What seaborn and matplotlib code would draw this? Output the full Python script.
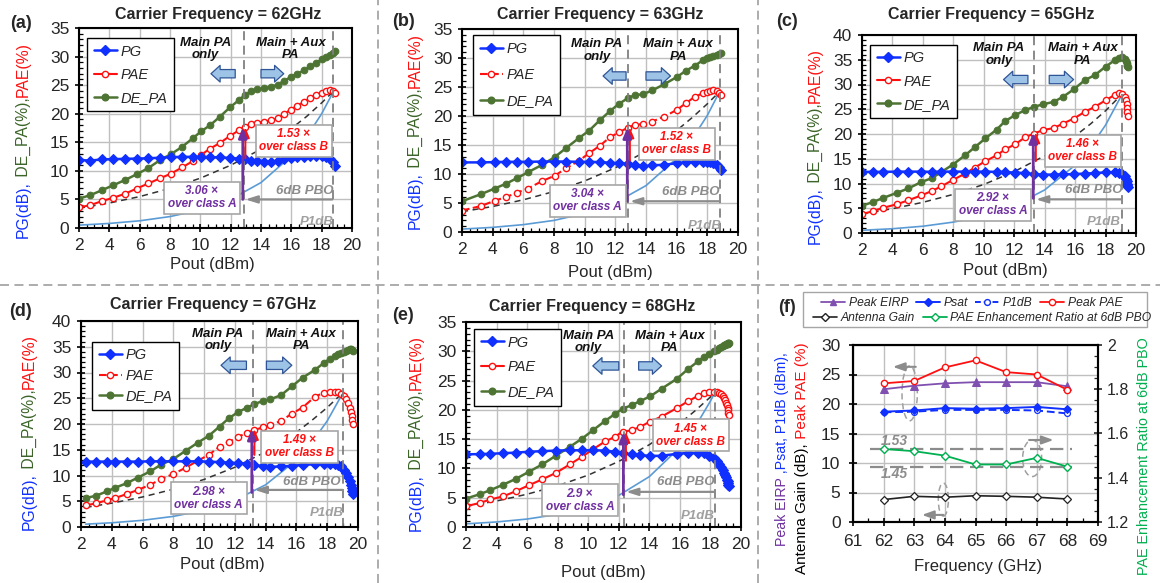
import matplotlib
matplotlib.use("Agg")
import matplotlib.pyplot as plt
import seaborn as sns
import numpy as np
import pandas as pd
from matplotlib.lines import Line2D
from matplotlib.patches import Ellipse, Rectangle
from matplotlib.ticker import MultipleLocator, FuncFormatter

# ------------------------------------------------------------------ data
# (a) 62 GHz
POUT_A = [2.0, 2.75, 3.5, 4.27, 5.04, 5.8, 6.58, 7.35, 8.05, 8.8, 9.5, 10.05, 10.65, 11.3, 11.95, 12.55,
          12.95, 13.35, 13.75, 14.2, 14.65, 15.1, 15.5, 15.95, 16.4, 16.85, 17.25, 17.65, 18.0, 18.3,
          18.55, 18.75, 18.9]
DE_A = [5.15, 5.75, 6.6, 7.5, 8.4, 9.4, 10.5, 11.9, 12.9, 14.2, 15.7, 16.9, 18.0, 19.5, 21.1, 22.4, 23.3,
        23.9, 24.3, 24.45, 24.7, 25.1, 25.7, 26.4, 27.0, 27.6, 28.3, 28.9, 29.5, 29.9, 30.3, 30.7, 30.95]
PAE_A = [3.6, 4.0, 4.7, 5.3, 6.0, 6.9, 7.8, 8.7, 9.5, 10.6, 11.7, 12.8, 13.9, 14.9, 16.1, 17.1, 17.7,
         18.2, 18.4, 18.6, 18.85, 19.2, 19.9, 20.7, 21.4, 22.1, 22.8, 23.3, 23.7, 24.0, 24.1, 24.0, 23.7]
PG_A = [11.9, 11.8, 12.0, 12.05, 12.1, 12.15, 12.2, 12.3, 12.4, 12.45, 12.45, 12.45, 12.4, 12.35, 12.25,
        12.15, 12.0, 11.8, 11.65, 11.5, 11.55, 11.75, 12.0, 12.25, 12.4, 12.5, 12.6, 12.6, 12.55, 12.4,
        12.0, 11.5, 10.9]
REFX_A = [2, 4, 6, 8, 10, 12, 14, 16, 17, 18, 18.8]
CLSB_A = [3.47, 4.37, 5.5, 6.93, 8.72, 10.98, 13.8, 17.4, 19.5, 21.9, 24.0]
CLSA_A = [0.5, 0.8, 1.26, 2.0, 3.16, 5.0, 7.95, 12.6, 15.9, 20.0, 24.0]

# (b) 63 GHz
POUT_B = [2.0, 3.26, 4.13, 4.85, 5.6, 6.3, 7.24, 8.04, 8.8, 9.63, 10.3, 11.0, 11.63, 12.24, 12.83, 13.26,
          13.8, 14.4, 15.2, 16.0, 16.6, 17.2, 17.7, 18.0, 18.2, 18.4, 18.6, 18.75, 18.9]
DE_B = [5.3, 6.55, 7.5, 8.3, 9.3, 10.3, 11.6, 12.9, 14.5, 16.2, 17.5, 19.3, 20.8, 22.1, 23.1, 23.6, 23.75,
        24.4, 25.5, 26.7, 27.8, 28.7, 29.6, 30.0, 30.2, 30.4, 30.6, 30.75, 30.85]
PAE_B = [3.7, 4.5, 5.4, 6.0, 6.8, 7.5, 8.8, 9.7, 11.0, 12.3, 13.6, 14.9, 16.3, 17.2, 18.0, 18.5, 18.6,
         19.05, 19.9, 21.05, 22.2, 23.35, 23.9, 24.2, 24.35, 24.4, 24.3, 24.0, 23.6]
PG_B = [12.0, 12.0, 12.05, 12.1, 12.1, 12.1, 12.15, 12.15, 12.15, 12.1, 12.1, 12.05, 11.95, 11.85, 11.8,
        11.6, 11.3, 11.5, 11.6, 11.85, 12.0, 12.1, 12.1, 12.05, 12.0, 11.85, 11.6, 11.2, 10.7]
REFX_B = [2, 4, 6, 8, 10, 12, 14, 16, 17, 18, 18.8]
CLSB_B = [3.5, 4.4, 5.55, 6.98, 8.8, 11.07, 13.9, 17.5, 19.7, 22.1, 24.2]
CLSA_B = [0.5, 0.8, 1.27, 2.0, 3.2, 5.05, 8.0, 12.7, 16.0, 20.1, 24.2]

# (c) 65 GHz
POUT_C = [2.0, 2.75, 3.4, 4.28, 5.04, 5.9, 6.6, 7.2, 7.96, 8.77, 9.4, 10.1, 10.85, 11.4, 12.05, 12.7, 13.3,
          13.9, 14.6, 15.2, 15.9, 16.65, 17.3, 18.0, 18.6, 18.9, 19.1, 19.25, 19.35, 19.4, 19.42, 19.44, 19.45]
DE_C = [5.5, 6.3, 7.1, 8.1, 9.0, 10.3, 11.1, 12.3, 13.8, 15.7, 17.3, 19.1, 20.9, 22.6, 23.8, 24.8, 25.5,
        26.0, 26.5, 27.5, 29.0, 30.9, 31.9, 33.6, 34.9, 35.3, 35.5, 35.2, 34.8, 34.4, 34.0, 33.7, 33.5]
PAE_C = [3.8, 4.45, 5.1, 5.8, 6.6, 7.6, 8.5, 9.4, 10.7, 12.0, 13.2, 14.5, 15.7, 16.9, 17.9, 19.3, 20.1,
         20.8, 21.2, 22.1, 23.1, 24.5, 25.5, 26.8, 27.9, 28.2, 28.1, 27.5, 26.8, 26.0, 25.2, 24.4, 23.6]
PG_C = [12.35, 12.35, 12.35, 12.4, 12.4, 12.4, 12.35, 12.4, 12.4, 12.4, 12.4, 12.4, 12.35, 12.3, 12.2, 12.1,
        11.9, 11.8, 11.8, 11.85, 11.9, 12.0, 12.1, 12.25, 12.3, 12.2, 12.0, 11.5, 11.0, 10.5, 10.0, 9.6, 9.3]
REFX_C = [2, 4, 6, 8, 10, 12, 14, 16, 17, 18, 19.1]
CLSB_C = [3.9, 4.9, 6.2, 7.8, 9.8, 12.4, 15.6, 19.6, 22.0, 24.7, 28.1]
CLSA_C = [0.55, 0.86, 1.37, 2.2, 3.4, 5.5, 8.7, 13.7, 17.3, 21.8, 28.1]

# (d) 67 GHz
POUT_D = [2.3, 3.0, 3.67, 4.2, 4.97, 5.7, 6.5, 7.2, 8.0, 8.8, 9.6, 10.3, 11.0, 11.6, 12.2, 12.8, 13.25,
          13.8, 14.3, 15.0, 15.7, 16.4, 17.2, 17.8, 18.2, 18.5, 18.7, 18.9, 19.1, 19.25, 19.35, 19.45,
          19.52, 19.58, 19.62, 19.65]
DE_D = [5.6, 6.1, 6.9, 7.6, 8.5, 9.6, 10.8, 12.1, 13.2, 14.8, 16.4, 17.7, 19.5, 21.1, 22.3, 23.2, 23.8,
        24.5, 24.8, 25.6, 27.3, 29.0, 30.5, 31.9, 32.7, 33.2, 33.5, 33.8, 34.0, 34.2, 34.4, 34.5, 34.5,
        34.4, 34.3, 34.2]
PAE_D = [4.2, 4.6, 5.2, 5.6, 6.4, 7.2, 8.2, 9.3, 10.3, 11.5, 12.9, 14.0, 15.6, 16.5, 17.5, 18.3, 18.8,
         19.35, 19.8, 20.6, 22.0, 23.2, 25.3, 26.1, 26.25, 26.3, 26.2, 25.9, 25.4, 24.8, 24.0, 23.2, 22.4,
         21.6, 20.8, 20.0]
PG_D = [12.7, 12.7, 12.7, 12.7, 12.7, 12.7, 12.75, 12.75, 12.75, 12.75, 12.75, 12.7, 12.6, 12.5, 12.4,
        12.25, 12.1, 11.75, 11.7, 11.75, 11.9, 12.05, 12.2, 12.25, 12.25, 12.2, 12.1, 11.8, 11.1, 10.5,
        9.8, 9.0, 8.2, 7.5, 6.9, 6.5]
REFX_D = [2.3, 4, 6, 8, 10, 12, 14, 16, 17, 18, 19.05]
CLSB_D = [3.8, 4.63, 5.83, 7.34, 9.24, 11.6, 14.6, 18.4, 20.7, 23.2, 26.2]
CLSA_D = [0.55, 0.82, 1.3, 2.06, 3.26, 5.2, 8.2, 13.0, 16.4, 20.6, 26.2]

# (e) 68 GHz
POUT_E = [2.0, 2.9, 3.6, 4.45, 5.25, 6.1, 7.0, 7.9, 8.8, 9.6, 10.3, 11.1, 11.75, 12.25, 12.85, 13.4, 14.05,
          14.8, 15.8, 16.55, 17.2, 17.6, 17.9, 18.2, 18.4, 18.55, 18.7, 18.8, 18.9, 18.97, 19.03, 19.08,
          19.12, 19.15, 19.18, 19.2]
DE_E = [4.85, 5.6, 6.3, 7.25, 8.2, 9.4, 10.7, 12.2, 13.7, 15.1, 16.5, 18.1, 19.3, 20.2, 20.8, 21.5, 22.3,
        23.6, 25.3, 27.0, 28.3, 29.1, 29.6, 30.0, 30.3, 30.5, 30.7, 30.85, 31.0, 31.1, 31.2, 31.25, 31.3,
        31.35, 31.4, 31.45]
PAE_E = [3.55, 4.1, 4.7, 5.25, 6.1, 7.1, 8.15, 9.25, 10.7, 12.0, 13.25, 14.6, 15.4, 16.3, 16.5, 17.1, 18.0,
         18.85, 20.3, 21.5, 22.4, 22.85, 23.0, 23.1, 23.0, 22.9, 22.7, 22.4, 22.0, 21.6, 21.2, 20.8, 20.4,
         20.0, 19.5, 19.1]
PG_E = [12.4, 12.45, 12.5, 12.6, 12.7, 12.85, 12.95, 13.05, 13.1, 13.1, 13.1, 13.05, 12.85, 12.55, 12.4,
        12.25, 12.15, 12.15, 12.5, 12.65, 12.65, 12.55, 12.2, 11.7, 11.2, 10.7, 10.2, 9.8, 9.3, 8.9, 8.5,
        8.1, 7.8, 7.5, 7.2, 7.0]
REFX_E = [2, 4, 6, 8, 10, 12, 14, 16, 17, 18, 18.3]
CLSB_E = [3.53, 4.44, 5.6, 7.04, 8.86, 11.2, 14.05, 17.7, 19.85, 22.2, 23.0]
CLSA_E = [0.54, 0.86, 1.36, 2.15, 3.4, 5.4, 8.6, 13.6, 17.1, 21.5, 23.0]

FREQ_LABELS = ["62GHz", "63GHz", "65GHz", "67GHz", "68GHz"]
RATIO_A = ["3.06", "3.04", "2.92", "2.98", "2.9"]
RATIO_B = ["1.53", "1.52", "1.46", "1.49", "1.45"]

# (f) summary vs frequency
FREQ = [62, 63, 64, 65, 66, 67, 68]
PEAK_EIRP = [22.5, 23.1, 23.5, 23.7, 23.7, 23.7, 23.0]
PSAT = [18.7, 18.9, 19.3, 19.2, 19.3, 19.5, 19.1]
P1DB = [18.6, 18.7, 19.0, 19.0, 19.0, 18.9, 18.4]
PEAK_PAE = [23.5, 23.9, 26.2, 27.4, 25.4, 25.0, 22.4]
ANT_GAIN = [3.8, 4.35, 4.2, 4.45, 4.35, 4.2, 3.9]
PAE_RATIO = [1.53, 1.52, 1.50, 1.46, 1.46, 1.49, 1.45]

# ------------------------------------------------------------------ style
sns.set_theme(style="ticks")
plt.rcParams["font.family"] = ["Liberation Sans", "DejaVu Sans"]

BLUE = "#1030FF"
RED = "#FF1010"
GREEN = "#4E7434"
GREEN_LAB = "#3B6428"
LBLUE = "#5B9BD5"
PURPLE = "#7030A0"
PURPLE_L = "#8050B0"
GRAY = "#8C8C8C"
GRID = "#BFBFBF"
RGREEN = "#00B050"
TICK_FS = 12.5

W, H = 1160, 583
fig = plt.figure(figsize=(W / 100, H / 100), dpi=100)
fig.patch.set_facecolor("white")


def fx(px):
    return px / W


def fy(py):
    return 1 - py / H


def vlabel(xpx, ycpx, parts, size):
    r = fig.canvas.get_renderer()
    hs = []
    for s, c in parts:
        t = fig.text(0, 0, s, rotation=90, fontsize=size)
        hs.append(t.get_window_extent(r).height)
        t.remove()
    y = (H - ycpx) - sum(hs) / 2
    for (s, c), h in zip(parts, hs):
        fig.text(fx(xpx), y / H, s, rotation=90, fontsize=size, color=c, ha="center", va="bottom")
        y += h


def style_axes(ax):
    for sp in ax.spines.values():
        sp.set_visible(True)
        sp.set_color("black")
        sp.set_linewidth(1.5)
    ax.tick_params(which="major", direction="inout", length=6, width=1.2, color="black",
                   labelsize=TICK_FS, pad=4, left=True, bottom=True)
    ax.tick_params(which="minor", direction="in", length=3, width=0.9, color="black", left=True, bottom=True)


def block_arrow(ax, x0, x1, y):
    ax.annotate("", xy=(x1, y), xytext=(x0, y),
                arrowprops=dict(arrowstyle="simple,head_length=0.55,head_width=1.0,tail_width=0.5",
                                fc="#9DC3E6", ec="#2F5597", lw=0.9, mutation_scale=12,
                                shrinkA=0, shrinkB=0))


LAYOUT = [
    dict(tag="(a)", rect=(79, 28, 352, 228), ymax=35, title_xy=(218, 15), tag_xy=(21, 24), ylab_xy=(23, 140),
         xlab_xy=(212, 264), pae_ls="-", v=(12.85, 18.75), pbo_y=5.0, pur=(5.0, 17.6), red_y0=12.2,
         boxA=(10.1, 5.3), boxB=(16.15, 15.3), pbo_txt=(16.9, 6.5), p1db_txt=(17.7, 1.1),
         main_txt=(10.35, 31.3), aux_txt=(15.95, 31.3), blk_y=27.0, blk_l=(12.3, 10.7), blk_r=(14.0, 15.5),
         leg=(0.03, 0.95), legsp=0.62),
    dict(tag="(b)", rect=(462, 29, 738, 232), ymax=35, title_xy=(600, 15), tag_xy=(404, 22), ylab_xy=(415, 131),
         xlab_xy=(610, 272), pae_ls="--", v=(12.83, 18.8), pbo_y=5.3, pur=(5.3, 18.0), red_y0=12.3,
         boxA=(10.2, 5.4), boxB=(16.0, 15.25), pbo_txt=(16.9, 6.9), p1db_txt=(17.8, 1.1),
         main_txt=(10.8, 31.3), aux_txt=(16.1, 31.3), blk_y=26.9, blk_l=(12.7, 11.2), blk_r=(14.0, 15.6),
         leg=(0.04, 0.97), legsp=0.85),
    dict(tag="(c)", rect=(862, 35, 1136, 233), ymax=40, title_xy=(991, 15), tag_xy=(787, 22), ylab_xy=(815, 146),
         xlab_xy=(1005, 271), pae_ls="-", v=(13.3, 19.1), pbo_y=6.8, pur=(7.0, 20.3), red_y0=14.5,
         boxA=(10.6, 5.7), boxB=(16.5, 16.6), pbo_txt=(17.2, 8.7), p1db_txt=(17.9, 2.3),
         main_txt=(11.0, 36.1), aux_txt=(16.5, 36.1), blk_y=31.0, blk_l=(12.9, 11.3), blk_r=(14.3, 15.9),
         leg=(0.03, 0.95), legsp=0.62),
    dict(tag="(d)", rect=(81, 321, 358, 527), ymax=40, title_xy=(213, 305), tag_xy=(21, 312), ylab_xy=(29, 432),
         xlab_xy=(222, 565), pae_ls="--", v=(13.15, 19.05), pbo_y=7.2, pur=(6.7, 19.0), red_y0=14.0,
         boxA=(10.3, 5.6), boxB=(16.2, 15.6), pbo_txt=(17.0, 8.8), p1db_txt=(18.0, 2.7),
         main_txt=(10.9, 36.3), aux_txt=(16.3, 36.3), blk_y=31.4, blk_l=(12.75, 11.1), blk_r=(14.05, 15.7),
         leg=(0.04, 0.90), legsp=0.45),
    dict(tag="(e)", rect=(466, 322, 741, 527), ymax=35, title_xy=(592, 307), tag_xy=(403, 315), ylab_xy=(416, 433),
         xlab_xy=(603, 572), pae_ls="-", v=(12.35, 18.3), pbo_y=6.0, pur=(5.5, 16.2), red_y0=11.3,
         boxA=(9.45, 4.55), boxB=(16.7, 15.65), pbo_txt=(16.4, 7.6), p1db_txt=(17.2, 1.8),
         main_txt=(10.0, 31.6), aux_txt=(15.35, 31.6), blk_y=27.5, blk_l=(12.0, 10.3), blk_r=(13.3, 14.8),
         leg=(0.03, 0.966), legsp=0.75),
]

SERIES = [
    (POUT_A, PG_A, PAE_A, DE_A, REFX_A, CLSB_A, CLSA_A),
    (POUT_B, PG_B, PAE_B, DE_B, REFX_B, CLSB_B, CLSA_B),
    (POUT_C, PG_C, PAE_C, DE_C, REFX_C, CLSB_C, CLSA_C),
    (POUT_D, PG_D, PAE_D, DE_D, REFX_D, CLSB_D, CLSA_D),
    (POUT_E, PG_E, PAE_E, DE_E, REFX_E, CLSB_E, CLSA_E),
]

for i, (cfg, (pout, pg, pae, de, refx, clsb, clsa)) in enumerate(zip(LAYOUT, SERIES)):
    l, t, r, b = cfg["rect"]
    ax = fig.add_axes([fx(l), fy(b), fx(r - l), (b - t) / H])
    ax.set_xlim(2, 20)
    ax.set_ylim(0, cfg["ymax"])
    ax.xaxis.set_major_locator(MultipleLocator(2))
    ax.xaxis.set_minor_locator(MultipleLocator(0.5))
    ax.yaxis.set_major_locator(MultipleLocator(5))
    ax.yaxis.set_minor_locator(MultipleLocator(1))
    ax.grid(True, which="major", color=GRID, lw=1.0)
    ax.set_axisbelow(True)
    style_axes(ax)

    common = dict(ax=ax, sort=False, estimator=None, legend=False)
    sns.lineplot(x=refx, y=clsa, color=LBLUE, lw=1.2, **common)
    sns.lineplot(x=refx, y=clsb, color="#333333", lw=1.1, linestyle=(0, (4, 3)), **common)
    sns.lineplot(x=pout, y=de, color=GREEN, lw=1.8, marker="o", markersize=4.8,
                 markerfacecolor=GREEN, markeredgecolor=GREEN, **common)
    sns.lineplot(x=pout, y=pae, color=RED, lw=1.5, linestyle=cfg["pae_ls"], marker="o", markersize=4.5,
                 markerfacecolor="white", markeredgecolor=RED, markeredgewidth=1.0, **common)
    sns.lineplot(x=pout, y=pg, color=BLUE, lw=1.8, marker="D", markersize=5,
                 markerfacecolor=BLUE, markeredgecolor=BLUE, **common)

    v1, v2 = cfg["v"]
    for v in (v1, v2):
        ax.axvline(v, color="#808080", lw=1.3, ls=(0, (5, 3)), zorder=2.5)

    # 6dB PBO arrow
    ax.annotate("", xy=(v1 + 0.12, cfg["pbo_y"]), xytext=(v2 - 0.05, cfg["pbo_y"]),
                arrowprops=dict(arrowstyle="-|>,head_length=0.7,head_width=0.22", color=GRAY, lw=1.6,
                                mutation_scale=10, shrinkA=0, shrinkB=0))
    ax.text(*cfg["pbo_txt"], "6dB PBO", ha="center", va="center", color=GRAY, fontsize=9.5,
            fontweight="bold", style="italic")
    ax.text(*cfg["p1db_txt"], "P1dB", ha="center", va="center", color="#A0A0A0", fontsize=9.5,
            fontweight="bold", style="italic")

    # enhancement arrows
    y0, y1 = cfg["pur"]
    ax.annotate("", xy=(v1 + 0.12, y1), xytext=(v1 + 0.12, cfg["red_y0"]),
                arrowprops=dict(arrowstyle="-|>,head_length=0.6,head_width=0.25", color=RED, lw=1.4,
                                mutation_scale=10, shrinkA=0, shrinkB=0))
    ax.annotate("", xy=(v1 - 0.05, y1), xytext=(v1 - 0.05, y0),
                arrowprops=dict(arrowstyle="-|>,head_length=0.6,head_width=0.25", color=PURPLE, lw=2.0,
                                mutation_scale=10, shrinkA=0, shrinkB=0))

    ax.text(*cfg["boxA"], f"{RATIO_A[i]} \u00d7\nover class A", ha="center", va="center", color=PURPLE,
            fontsize=8.5, fontweight="bold", style="italic", linespacing=1.1,
            bbox=dict(boxstyle="square,pad=0.3", fc="white", ec="#A6A6A6", lw=1.2))
    ax.text(*cfg["boxB"], f"{RATIO_B[i]} \u00d7\nover class B", ha="center", va="center", color=RED,
            fontsize=8.5, fontweight="bold", style="italic", linespacing=1.1,
            bbox=dict(boxstyle="square,pad=0.3", fc="white", ec="#A6A6A6", lw=1.2))

    ax.text(*cfg["main_txt"], "Main PA\nonly", ha="center", va="center", fontsize=9.5, fontweight="bold",
            style="italic", linespacing=1.05, color="#111111")
    ax.text(*cfg["aux_txt"], "Main + Aux\nPA", ha="center", va="center", fontsize=9.5, fontweight="bold",
            style="italic", linespacing=1.05, color="#111111")
    block_arrow(ax, cfg["blk_l"][0], cfg["blk_l"][1], cfg["blk_y"])
    block_arrow(ax, cfg["blk_r"][0], cfg["blk_r"][1], cfg["blk_y"])

    handles = [Line2D([], [], color=BLUE, marker="D", ms=5, lw=1.8),
               Line2D([], [], color=RED, marker="o", ms=4.5, mfc="white", lw=1.5, ls=cfg["pae_ls"]),
               Line2D([], [], color=GREEN, marker="o", ms=4.8, lw=1.8)]
    leg = ax.legend(handles, ["PG", "PAE", "DE_PA"], loc="upper left", bbox_to_anchor=cfg["leg"],
                    prop=dict(style="italic", size=10.5), frameon=True, fancybox=False, edgecolor="black",
                    framealpha=1, labelspacing=cfg["legsp"], handlelength=1.6, borderpad=0.45,
                    handletextpad=0.25, borderaxespad=0)
    leg.get_frame().set_linewidth(1.0)

    fig.text(fx(cfg["title_xy"][0]), fy(cfg["title_xy"][1]), f"Carrier Frequency = {FREQ_LABELS[i]}",
             ha="center", va="center", fontsize=11.5, fontweight="bold")
    fig.text(fx(cfg["tag_xy"][0]), fy(cfg["tag_xy"][1]), cfg["tag"], ha="center", va="center",
             fontsize=13, fontweight="bold")
    fig.text(fx(cfg["xlab_xy"][0]), fy(cfg["xlab_xy"][1]), "Pout (dBm)", ha="center", va="center",
             fontsize=12)
    vlabel(cfg["ylab_xy"][0], cfg["ylab_xy"][1],
           [("PG(dB),", BLUE), (" DE_PA(%),", GREEN_LAB), ("PAE(%)", RED)], 11.3)

# ------------------------------------------------------------------ panel (f)
axf = fig.add_axes([fx(853), fy(522), fx(1098 - 853), (522 - 345) / H])
axf.set_xlim(61, 69)
axf.set_ylim(0, 30)
axf.xaxis.set_major_locator(MultipleLocator(1))
axf.xaxis.set_minor_locator(MultipleLocator(0.5))
axf.yaxis.set_major_locator(MultipleLocator(5))
axf.grid(True, which="major", color=GRID, lw=1.0)
axf.set_axisbelow(True)
style_axes(axf)
axf.tick_params(which="major", pad=6)

axr = axf.twinx()
axr.set_ylim(1.2, 2.0)
axr.yaxis.set_major_locator(MultipleLocator(0.2))
axr.yaxis.set_minor_locator(MultipleLocator(0.05))
axr.yaxis.set_major_formatter(FuncFormatter(lambda v, _: f"{v:g}"))
for sp in axr.spines.values():
    sp.set_color("black")
    sp.set_linewidth(1.5)
axr.tick_params(which="major", direction="inout", length=6, width=1.2, labelsize=11.5, pad=3.5, right=True)
axr.tick_params(which="minor", direction="in", length=3, width=0.9, right=True)

cf = dict(ax=axf, sort=False, estimator=None, legend=False)
sns.lineplot(x=FREQ, y=ANT_GAIN, color="#222222", lw=1.2, marker="D", markersize=4,
             markerfacecolor="white", markeredgecolor="#222222", markeredgewidth=0.9, **cf)
sns.lineplot(x=FREQ, y=P1DB, color=BLUE, lw=1.4, linestyle=(0, (4, 2)), marker="o", markersize=4.2,
             markerfacecolor="white", markeredgecolor=BLUE, markeredgewidth=0.9, **cf)
sns.lineplot(x=FREQ, y=PSAT, color=BLUE, lw=1.4, marker="D", markersize=4.5,
             markerfacecolor=BLUE, markeredgecolor=BLUE, **cf)
sns.lineplot(x=FREQ, y=PEAK_EIRP, color=PURPLE_L, lw=1.3, marker="^", markersize=5.5,
             markerfacecolor=PURPLE_L, markeredgecolor=PURPLE_L, **cf)
sns.lineplot(x=FREQ, y=PEAK_PAE, color=RED, lw=1.3, marker="o", markersize=4.5,
             markerfacecolor="white", markeredgecolor=RED, markeredgewidth=1.0, **cf)
sns.lineplot(x=FREQ, y=PAE_RATIO, ax=axr, color=RGREEN, lw=1.3, marker="D", markersize=4.5,
             markerfacecolor="white", markeredgecolor=RGREEN, markeredgewidth=1.0,
             sort=False, estimator=None, legend=False)

rmax, rmin = max(PAE_RATIO), min(PAE_RATIO)
axr.hlines([rmax, rmin], 61.55, 68.15, colors="#8C8C8C", linestyles=(0, (6, 3)), lw=1.6, zorder=1)
axr.text(62.35, rmax + 0.035, f"{rmax:.2f}", ha="center", va="center", color=GRAY, fontsize=10,
         fontweight="bold", style="italic")
axr.text(62.35, rmin - 0.035, f"{rmin:.2f}", ha="center", va="center", color=GRAY, fontsize=10,
         fontweight="bold", style="italic")

for (cx, cy, w, h) in [(62.85, 21.8, 0.5, 9.3), (66.85, 10.8, 0.62, 6.2), (63.95, 3.8, 0.33, 5.6)]:
    axf.add_patch(Ellipse((cx, cy), w, h, fill=False, ec="#A0A0A0", lw=1.1, ls=(0, (4, 2.5))))
for (xa, xb, ya) in [(63.05, 62.3, 26.3), (66.75, 67.55, 13.9), (63.95, 63.25, 1.2)]:
    axf.annotate("", xy=(xb, ya), xytext=(xa, ya),
                 arrowprops=dict(arrowstyle="-|>,head_length=0.7,head_width=0.25", color="#8C8C8C",
                                 lw=1.5, mutation_scale=10, shrinkA=0, shrinkB=0))

# legend for (f): two rows inside one frame
row1 = [Line2D([], [], color=PURPLE_L, marker="^", ms=5, lw=1.3),
        Line2D([], [], color=BLUE, marker="D", ms=4.5, lw=1.4),
        Line2D([], [], color=BLUE, marker="o", ms=4.2, mfc="white", lw=1.4, ls=(0, (3, 1.5))),
        Line2D([], [], color=RED, marker="o", ms=4.5, mfc="white", lw=1.3)]
row2 = [Line2D([], [], color="#222222", marker="D", ms=4, mfc="white", lw=1.2),
        Line2D([], [], color=RGREEN, marker="D", ms=4.5, mfc="white", lw=1.3)]
lkw = dict(loc="upper left", frameon=False, prop=dict(style="italic", size=8.7), handlelength=2.0,
           columnspacing=0.6, handletextpad=0.3, borderpad=0.1, borderaxespad=0)
fig.legend(row1, ["Peak EIRP", "Psat", "P1dB", "Peak PAE"], ncol=4, bbox_to_anchor=(fx(820), fy(296)), **lkw)
fig.legend(row2, ["Antenna Gain", "PAE Enhancement Ratio at 6dB PBO"], ncol=2,
           bbox_to_anchor=(fx(812), fy(311)), **lkw)
fig.patches.append(Rectangle((fx(803), fy(327)), fx(1147 - 803), (327 - 292) / H, transform=fig.transFigure,
                             fill=False, ec="#A6A6A6", lw=1.0))

fig.text(fx(787), fy(307), "(f)", ha="center", va="center", fontsize=13, fontweight="bold")
fig.text(fx(978), fy(567), "Frequency (GHz)", ha="center", va="center", fontsize=12)
vlabel(782, 449, [("Peak EIRP", PURPLE), (" ,Psat, P1dB (dBm),", BLUE)], 10.2)
vlabel(802, 458, [("Antenna Gain (dB),", "black"), (" Peak PAE (%)", RED)], 11)
vlabel(1144, 456, [("PAE Enhancement Ratio at 6dB PBO", RGREEN)], 10.4)

# ------------------------------------------------------------------ dashed panel separators
sep = dict(color="#A6A6A6", lw=1.3, ls=(0, (5, 3)), transform=fig.transFigure)
fig.add_artist(Line2D([0, 1], [fy(285), fy(285)], **sep))
fig.add_artist(Line2D([fx(378), fx(378)], [0, 1], **sep))
fig.add_artist(Line2D([fx(758), fx(758)], [0, 1], **sep))

fig.savefig("out.png", dpi=100, facecolor="white")
